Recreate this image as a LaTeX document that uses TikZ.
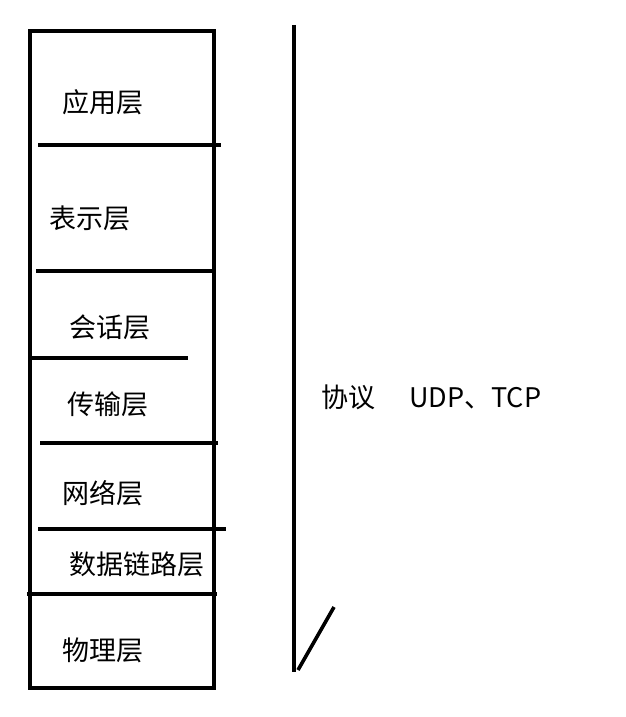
\documentclass[tikz,border=0pt]{standalone}
\usepackage{fontspec}
\setmainfont{Noto Sans CJK SC}
\begin{document}
\begin{tikzpicture}[x=1pt,y=-1pt,
  stroke/.style={line width=3.6pt,line cap=butt},
  lbl/.style={anchor=base west,inner sep=0pt,font=\fontsize{27}{30}\selectfont}]
\useasboundingbox[fill=white] (0,0) rectangle (625,717);
% stack box
\draw[stroke] (30,31) rectangle (214,688);
% dividers
\draw[stroke] (38,145) -- (221,145);
\draw[stroke] (36,271) -- (214,271);
\draw[stroke] (30,358) -- (188,358);
\draw[stroke] (40,443) -- (218,443);
\draw[stroke] (38,529) -- (226,529);
\draw[stroke] (27,594) -- (217,594);
% vertical line and slash
\draw[stroke] (294,25) -- (294,672);
\draw[stroke] (298,670) -- (334,607);
% labels
\node[lbl] (app)  at (62,112) {应用层};
\node[lbl] (pres) at (49,228) {表示层};
\node[lbl] (sess) at (69,337) {会话层};
\node[lbl] (trans) at (67,414) {传输层};
\node[lbl] (net)  at (62,503) {网络层};
\node[lbl] (link) at (69,574) {数据链路层};
\node[lbl] (phys) at (62,660) {物理层};
\node[lbl] (proto) at (321,407) {协议\hspace{34pt}UDP、TCP};
\end{tikzpicture}
\end{document}
